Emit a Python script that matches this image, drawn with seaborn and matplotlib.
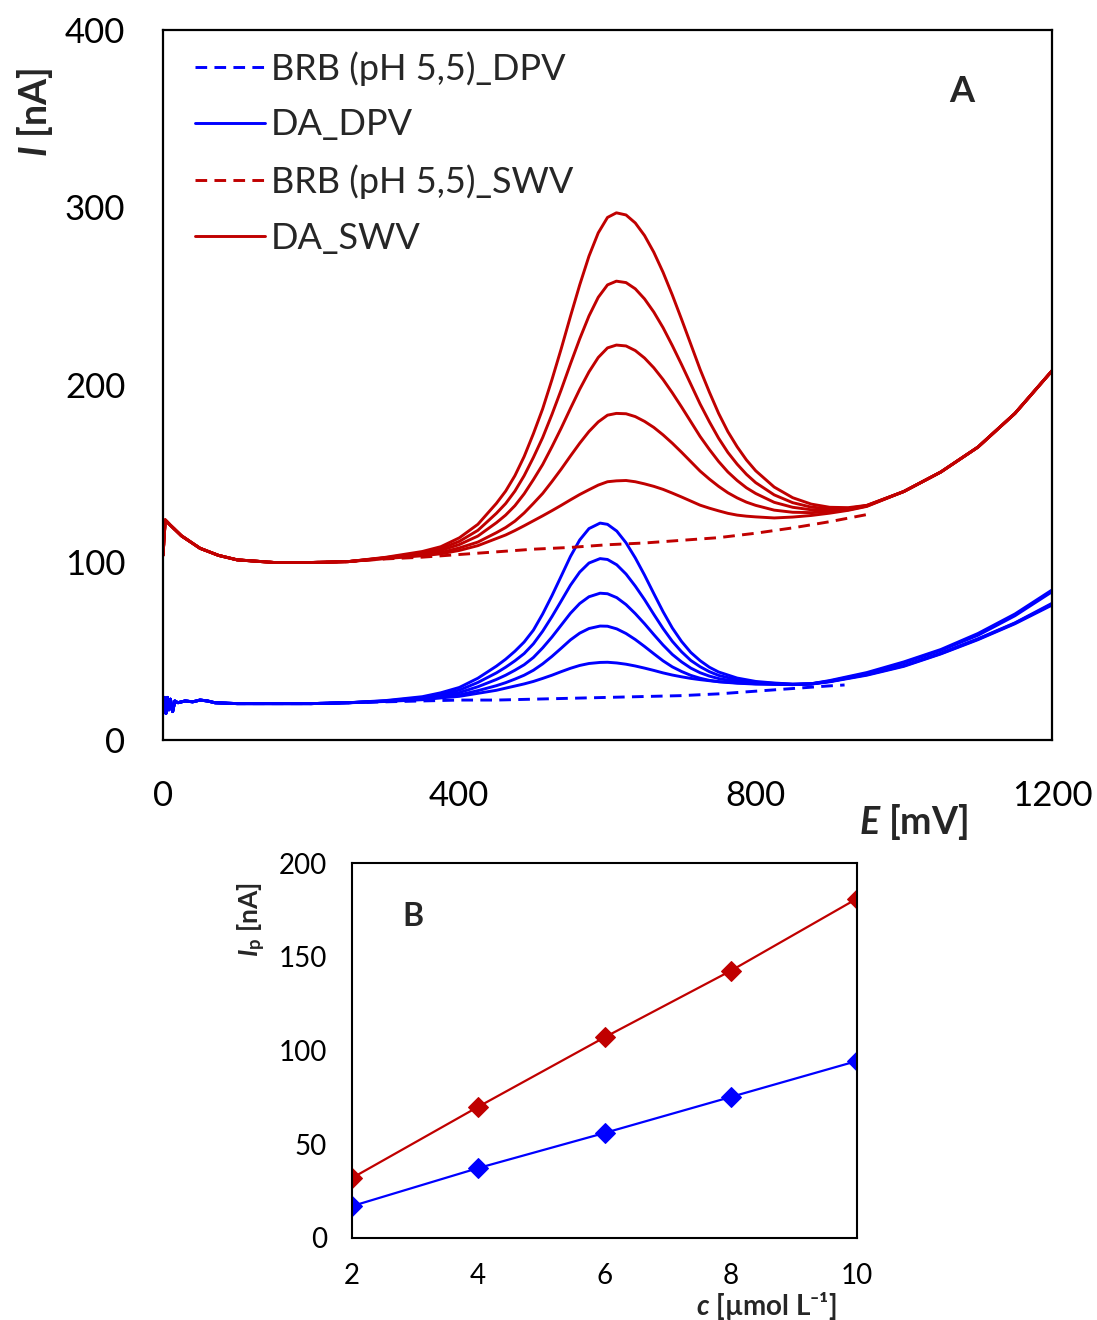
import matplotlib
matplotlib.use("Agg")
import matplotlib.pyplot as plt
import seaborn as sns
from matplotlib.lines import Line2D

sns.set_theme(style="white")
plt.rcParams["font.family"] = ["Lato", "DejaVu Sans"]
plt.rcParams["mathtext.fontset"] = "custom"
plt.rcParams["mathtext.rm"] = "Lato"
plt.rcParams["mathtext.it"] = "Lato:italic"
plt.rcParams["mathtext.bf"] = "Lato:bold"
plt.rcParams["mathtext.bfit"] = "Lato:bold:italic"

RED = "#C00000"
BLUE = "#0000FF"

# ---------------- Panel A data (E in mV, I in nA) ----------------
E_red = [0, 3, 10, 25, 50, 75, 100, 150, 200, 250,
         300, 350, 375, 400, 425, 450,
         462.5, 475, 487.5, 500, 512.5, 525, 537.5, 550, 562.5, 575, 587.5, 600, 612, 625,
         637.5, 650, 662.5, 675, 687.5, 700, 712.5, 725, 737.5, 750, 762.5, 775, 787.5, 800,
         825, 850, 875, 900, 925, 950,
         1000, 1050, 1100, 1150, 1200]
da_swv_1 = [104, 124, 121, 115, 108, 104, 101.5, 100, 100, 100.5,
            102.9, 106.2, 108.9, 113.9, 121.5, 133.3,
            140.2, 148.9, 159.7, 172.6, 186.6, 203, 220.4, 238.7, 256.4, 272.6, 285.7, 294.4,
            297, 295.8, 291.3, 284.2, 274.8, 263.5, 250.7, 237, 222.9, 208.8, 196, 184,
            173.7, 165.2, 157.8, 151.7,
            142.5, 136.5, 132.9, 131.1, 130.9, 132.2,
            140, 151, 165, 184, 208]
da_swv_2 = [104, 124, 121, 115, 108, 104, 101.5, 100, 100, 100.5,
            102.7, 105.5, 107.8, 111.9, 118.1, 127.7,
            133.2, 140.2, 148.9, 159.2, 170.4, 183.4, 197.3, 211.9, 226, 238.9, 249.4, 256.4,
            258.5, 257.7, 254.2, 248.5, 241.1, 232.3, 222.2, 211.5, 200.4, 189.3, 179.3, 170,
            162, 155.4, 149.7, 145,
            138.1, 133.7, 131.2, 130.3, 130.5, 132.1,
            140, 151, 165, 184, 208]
da_swv_3 = [104, 124, 121, 115, 108, 104, 101.5, 100, 100, 100.5,
            102.6, 104.9, 106.8, 110.1, 114.9, 122.4,
            126.7, 132, 138.7, 146.7, 155.2, 165.2, 175.7, 186.8, 197.6, 207.4, 215.5, 220.9,
            222.5, 222, 219.4, 215.2, 209.7, 203.1, 195.6, 187.6, 179.3, 171, 163.7, 156.9,
            151, 146.2, 142.1, 138.9,
            133.9, 131.1, 129.7, 129.5, 130.1, 132,
            140, 151, 165, 184, 208]
da_swv_4 = [104, 124, 121, 115, 108, 104, 101.5, 100, 100, 100.5,
            102.4, 104.3, 105.6, 108.2, 111.5, 116.8,
            119.7, 123.3, 127.9, 133.3, 138.9, 145.6, 152.6, 160, 167.2, 173.8, 179.2, 183,
            184, 183.8, 182.2, 179.5, 176.1, 171.9, 167.2, 162.1, 156.8, 151.5, 147, 142.9,
            139.3, 136.4, 134, 132.2,
            129.5, 128.3, 128.1, 128.6, 129.7, 131.8,
            140, 151, 165, 184, 208]
da_swv_5 = [104, 124, 121, 115, 108, 104, 101.5, 100, 100, 100.5,
            102.2, 103.8, 104.9, 106.8, 109.5, 113.5,
            115.5, 118, 120.7, 123.5, 126.3, 129.2, 132.2, 135.3, 138.3, 141, 143.6, 145.5,
            146, 146.2, 145.5, 144.3, 142.9, 141.2, 139.1, 136.9, 134.6, 132.3, 130.6, 129.1,
            127.7, 126.7, 126.1, 125.7,
            125.1, 125.6, 126.5, 127.8, 129.4, 131.6,
            140, 151, 165, 184, 208]

E_brb_swv = [0, 3, 10, 25, 50, 75, 100, 150, 200, 250, 300, 350, 400, 450, 500, 550, 600,
             650, 700, 750, 800, 850, 900, 950]
brb_swv = [104, 124, 121, 115, 108, 104, 101.5, 100, 100, 100.5, 102, 103, 104.5, 106, 107.5,
           108.5, 110, 111, 112.5, 114, 116.5, 119.5, 123, 127]

E_blue = [0, 2, 4, 6, 8, 10, 13, 16, 20, 30, 40, 50, 60, 70, 100, 150, 200, 250,
          300, 350, 375, 400, 425, 450,
          462.5, 475, 487.5, 500, 512.5, 525, 537.5, 550, 562.5, 575, 590, 600,
          612.5, 625, 637.5, 650, 662.5, 675, 687.5, 700, 712.5, 725, 737.5, 750,
          775, 800, 825, 850, 875, 900,
          950, 1000, 1050, 1100, 1150, 1200]
da_dpv_1 = [17, 24, 15, 24, 17, 23, 16, 22, 21, 22, 21.5, 22.5, 22, 21, 20.5, 20.5, 20.5, 21,
            22.2, 24.4, 26.6, 29.6, 34.8, 41.6,
            45.5, 50, 55.2, 61.9, 71, 81.3, 92.3, 103.4, 112.7, 119.1, 122.2, 121.5,
            117.7, 111.1, 102.6, 92.9, 82.5, 72.3, 63.1, 55.5, 49.3, 44.7, 41, 38.3,
            34.9, 33, 32.1, 31.5, 31.7, 33.5,
            38, 44, 51, 60, 71, 84.5]
da_dpv_2 = [17, 24, 15, 24, 17, 23, 16, 22, 21, 22, 21.5, 22.5, 22, 21, 20.5, 20.5, 20.5, 21,
            22, 23.9, 25.8, 28.1, 32.4, 37.8,
            41, 44.6, 48.7, 54.2, 61.3, 69.5, 78.3, 87.2, 94.6, 99.7, 102.2, 101.7,
            98.7, 93.5, 86.7, 79.1, 70.8, 62.8, 55.6, 49.7, 44.8, 41.3, 38.5, 36.4,
            33.9, 32.5, 31.9, 31.4, 31.7, 33.2,
            37.5, 43.5, 50.5, 59, 70, 83.5]
da_dpv_3 = [17, 24, 15, 24, 17, 23, 16, 22, 21, 22, 21.5, 22.5, 22, 21, 20.5, 20.5, 20.5, 21,
            21.9, 23.4, 25, 26.7, 30, 34.1,
            36.5, 39.3, 42.4, 46.5, 51.9, 58, 64.7, 71.4, 76.9, 80.7, 82.7, 82.4,
            80.2, 76.3, 71.2, 65.5, 59.4, 53.5, 48.2, 44, 40.5, 37.9, 36, 34.6,
            32.9, 32, 31.6, 31.3, 31.6, 33,
            37, 42, 49, 57, 66, 77]
da_dpv_4 = [17, 24, 15, 24, 17, 23, 16, 22, 21, 22, 21.5, 22.5, 22, 21, 20.5, 20.5, 20.5, 21,
            21.8, 23, 24.2, 25.4, 27.8, 30.6,
            32.3, 34.3, 36.5, 39.3, 42.9, 47.1, 51.7, 56.4, 60.2, 62.8, 64.2, 64.1,
            62.6, 60, 56.6, 52.7, 48.6, 44.6, 41.2, 38.6, 36.4, 34.8, 33.6, 32.8,
            32, 31.5, 31.4, 31.2, 31.6, 33,
            36.8, 41.8, 48.7, 56.8, 65.8, 76.5]
da_dpv_5 = [17, 24, 15, 24, 17, 23, 16, 22, 21, 22, 21.5, 22.5, 22, 21, 20.5, 20.5, 20.5, 21,
            21.7, 22.7, 23.7, 24.6, 26.3, 28,
            29.2, 30.4, 31.6, 33, 34.7, 36.5, 38.5, 40.4, 42, 43.1, 43.7, 43.8,
            43.4, 42.7, 41.7, 40.5, 39.2, 37.8, 36.6, 35.6, 34.7, 34, 33.4, 32.9,
            32.2, 31.7, 31.4, 31.2, 31.5, 32.8,
            36.5, 41.5, 48.5, 56.5, 65.5, 76]

E_brb_dpv = [0, 2, 4, 6, 8, 10, 13, 16, 20, 30, 40, 50, 60, 70, 100, 150, 200, 250, 300, 350,
             400, 450, 500, 550, 600, 650, 700, 750, 800, 850, 900, 920]
brb_dpv = [17, 24, 15, 24, 17, 23, 16, 22, 21, 22, 21.5, 22.5, 22, 21, 20.5, 20.5, 20.5, 21,
           21.5, 22, 22.5, 22.5, 23, 23.5, 24, 24.5, 25, 26, 27.5, 29, 30.5, 31]

legend_labels = ["BRB (pH 5,5)_DPV", "DA_DPV", "BRB (pH 5,5)_SWV", "DA_SWV"]

# ---------------- Panel B data ----------------
conc = [2, 4, 6, 8, 10]
ip_swv = [32, 70, 107, 142.5, 181]
ip_dpv = [17, 37.3, 56, 75.2, 94.4]

W, H = 1097, 1320
fig = plt.figure(figsize=(W / 100, H / 100), dpi=100)
fig.patch.set_facecolor("white")

DASH = (0, (4, 2.5))
LW = 2.1

# ---------------- Panel A ----------------
axA = fig.add_axes([163 / W, 1 - 740 / H, 889 / W, 710 / H])
sns.lineplot(x=E_brb_dpv, y=brb_dpv, ax=axA, color=BLUE, lw=LW, linestyle=DASH, sort=False)
for ys in [da_dpv_5, da_dpv_4, da_dpv_3, da_dpv_2, da_dpv_1]:
    sns.lineplot(x=E_blue, y=ys, ax=axA, color=BLUE, lw=LW, sort=False)
sns.lineplot(x=E_brb_swv, y=brb_swv, ax=axA, color=RED, lw=LW, linestyle=DASH, sort=False)
for ys in [da_swv_5, da_swv_4, da_swv_3, da_swv_2, da_swv_1]:
    sns.lineplot(x=E_red, y=ys, ax=axA, color=RED, lw=LW, sort=False)

axA.set_xlim(0, 1200)
axA.set_ylim(0, 400)
axA.set_xticks([0, 400, 800, 1200])
axA.set_yticks([0, 100, 200, 300, 400])
axA.tick_params(axis="both", direction="in", length=8, width=1.3, colors="black",
                labelsize=25)
axA.tick_params(axis="x", pad=29)
axA.tick_params(axis="y", pad=27)
axA.set_xlabel("")
axA.set_ylabel("")
for s in axA.spines.values():
    s.set_color("black")
    s.set_linewidth(1.6)

handles = [Line2D([], [], color=BLUE, lw=LW, linestyle=DASH),
           Line2D([], [], color=BLUE, lw=LW),
           Line2D([], [], color=RED, lw=LW, linestyle=DASH),
           Line2D([], [], color=RED, lw=LW)]
fig.legend(handles, legend_labels, loc="upper left",
           bbox_to_anchor=(195 / W, 1 - 51 / H), frameon=False, fontsize=26,
           handlelength=1.95, handletextpad=0.15, labelspacing=0.63,
           borderpad=0, borderaxespad=0)

fig.text(962 / W, 1 - 92 / H, "A", fontsize=26, fontweight="bold", ha="center", va="center")
fig.text(35 / W, 1 - 112 / H, r"$\mathbfit{I}$ [nA]", fontsize=27, fontweight="bold",
         rotation=90, ha="center", va="center")
fig.text(914 / W, 1 - 822 / H, r"$\mathbfit{E}$ [mV]", fontsize=27, fontweight="bold",
         ha="center", va="center")

# ---------------- Panel B ----------------
axB = fig.add_axes([352 / W, 1 - 1238 / H, 505 / W, 375 / H])
sns.lineplot(x=conc, y=ip_swv, ax=axB, color=RED, lw=1.6, marker="D", markersize=10,
             markeredgecolor=RED, sort=False)
sns.lineplot(x=conc, y=ip_dpv, ax=axB, color=BLUE, lw=1.6, marker="D", markersize=10,
             markeredgecolor=BLUE, sort=False)
axB.set_xlim(2, 10)
axB.set_ylim(0, 200)
axB.set_xticks([2, 4, 6, 8, 10])
axB.set_yticks([0, 50, 100, 150, 200])
axB.tick_params(axis="both", direction="in", length=7, width=1.2, colors="black",
                labelsize=20)
axB.tick_params(axis="x", pad=18)
axB.tick_params(axis="y", pad=18)
axB.set_xlabel("")
axB.set_ylabel("")
for s in axB.spines.values():
    s.set_color("black")
    s.set_linewidth(1.5)

fig.text(413 / W, 1 - 916 / H, "B", fontsize=23, fontweight="bold", ha="center", va="center")
fig.text(252 / W, 1 - 920 / H, r"$\mathbfit{I}_\mathbf{p}$ [nA]", fontsize=19,
         fontweight="bold", rotation=90, ha="center", va="center")
fig.text(766 / W, 1 - 1306 / H, r"$\mathbfit{c}$ [µmol L⁻¹]", fontsize=20,
         fontweight="bold", ha="center", va="center")

fig.savefig("out.png", dpi=100, facecolor="white")
